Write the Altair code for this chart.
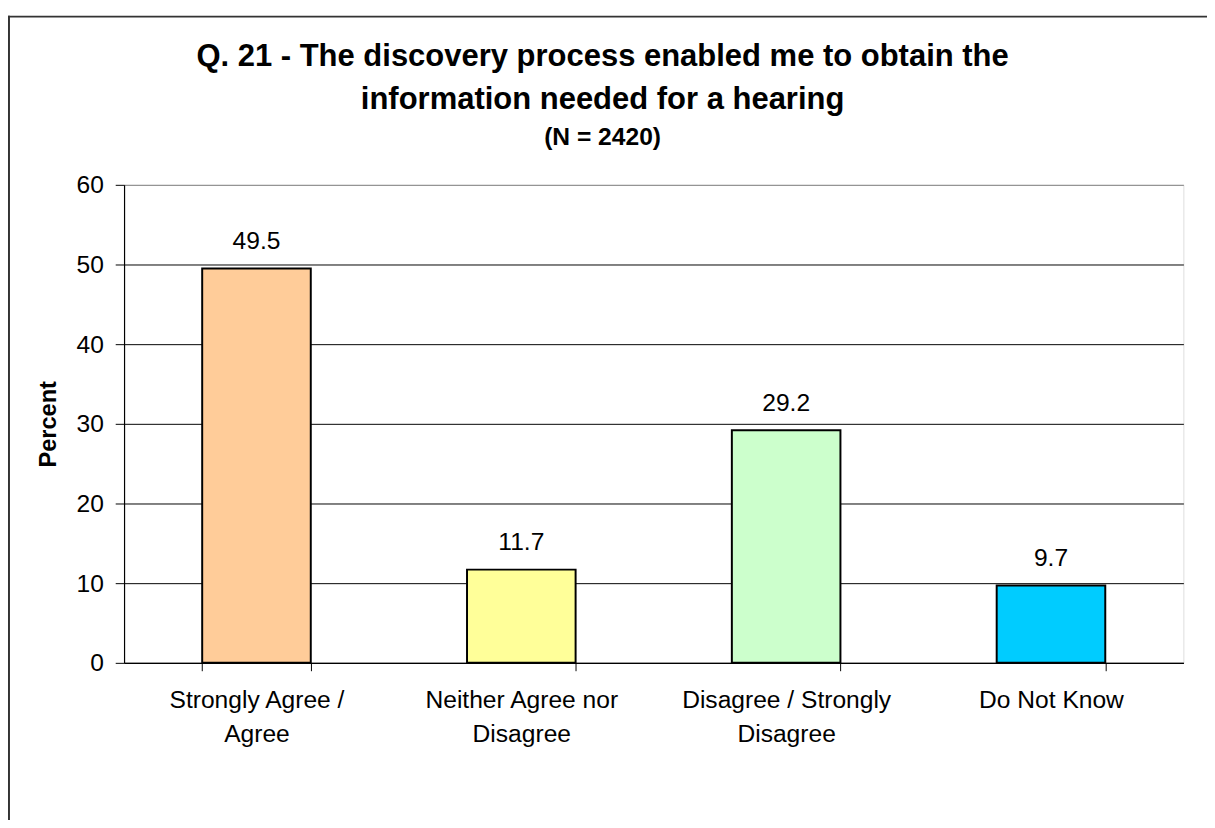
import altair as alt
import pandas as pd

categories = ["Strongly Agree / Agree", "Neither Agree nor Disagree",
              "Disagree / Strongly Disagree", "Do Not Know"]
label_lines = [["Strongly Agree /", "Agree"], ["Neither Agree nor", "Disagree"],
               ["Disagree / Strongly", "Disagree"], ["Do Not Know"]]
values = [49.5, 11.7, 29.2, 9.7]
colors = ["#FFCC99", "#FFFF99", "#CCFFCC", "#00CCFF"]
y_ticks = [0, 10, 20, 30, 40, 50, 60]

df = pd.DataFrame({"category": categories, "value": values})

# build a label expression turning each category into its wrapped lines
expr = "datum.label"
for cat, lines in reversed(list(zip(categories, label_lines))):
    arr = "[" + ",".join("'" + l + "'" for l in lines) + "]"
    expr = f"datum.label === '{cat}' ? {arr} : ({expr})"

FONT = "Liberation Sans"

x_enc = alt.X("category:N", sort=categories,
              scale=alt.Scale(paddingInner=0.59, paddingOuter=0.295),
              axis=alt.Axis(title=None, labelExpr=expr, labelAngle=0,
                            tickBand="extent", tickSize=8, tickColor="#000000",
                            domainColor="#000000", domainWidth=1.2,
                            labelFontSize=25, labelLineHeight=35,
                            labelPadding=17, labelColor="#000000",
                            labelFont=FONT, labelLimit=500, grid=False))
y_enc = alt.Y("value:Q", scale=alt.Scale(domain=[0, 60], nice=False),
              axis=alt.Axis(title="Percent", values=y_ticks, tickSize=9,
                            tickColor="#000000", domainColor="#000000",
                            domainWidth=1.2, labelFontSize=25, labelPadding=12,
                            labelColor="#000000", labelFont=FONT,
                            titleFont=FONT, titleFontSize=24,
                            titleFontWeight="bold", titleColor="#000000",
                            titlePadding=16, grid=True,
                            gridColor={"condition": {"test": "datum.value === 60",
                                                     "value": "#808080"},
                                       "value": "#000000"},
                            gridWidth=1))

base = alt.Chart(df)

bars = base.mark_bar(stroke="#000000", strokeWidth=2).encode(
    x=x_enc,
    y=y_enc,
    color=alt.Color("category:N", sort=categories,
                    scale=alt.Scale(domain=categories, range=colors),
                    legend=None),
)

labels = base.mark_text(baseline="alphabetic", dy=-20, fontSize=25,
                        font=FONT, color="#000000").encode(
    x=alt.X("category:N", sort=categories),
    y=alt.Y("value:Q"),
    text=alt.Text("value:Q", format=".1f"),
)

# outer chart frame (left and top edges; right/bottom lie beyond the window)
frame_df = pd.DataFrame({"k": [0]})
border_left = alt.Chart(frame_df).mark_rect(color="#333333").encode(
    x=alt.value(-118), x2=alt.value(-116),
    y=alt.value(-172), y2=alt.value(900),
)
border_top = alt.Chart(frame_df).mark_rect(color="#333333").encode(
    x=alt.value(-118), x2=alt.value(1101),
    y=alt.value(-172), y2=alt.value(-170),
)

chart = alt.layer(border_left, border_top, bars, labels).properties(
    width=1077,
    height=486,
    autosize=alt.AutoSizeParams(type="none"),
    padding={"left": 118, "top": 173, "right": 24, "bottom": 153},
    title=alt.TitleParams(
        text=["Q. 21 - The discovery process enabled me to obtain the",
              "information needed for a hearing"],
        subtitle="(N = 2420)",
        font=FONT, fontSize=31.5, fontWeight="bold", color="#000000",
        lineHeight=43,
        subtitleFont=FONT, subtitleFontSize=25, subtitleFontWeight="bold",
        subtitleColor="#000000", subtitlePadding=11,
        anchor="middle", dx=-52, offset=-137,
    ),
).configure_view(
    fill="#C0C0C0", stroke="#808080", strokeWidth=1
).configure(background="#FFFFFF")

chart.save("out.html", embed_options={"renderer": "svg", "actions": False})
